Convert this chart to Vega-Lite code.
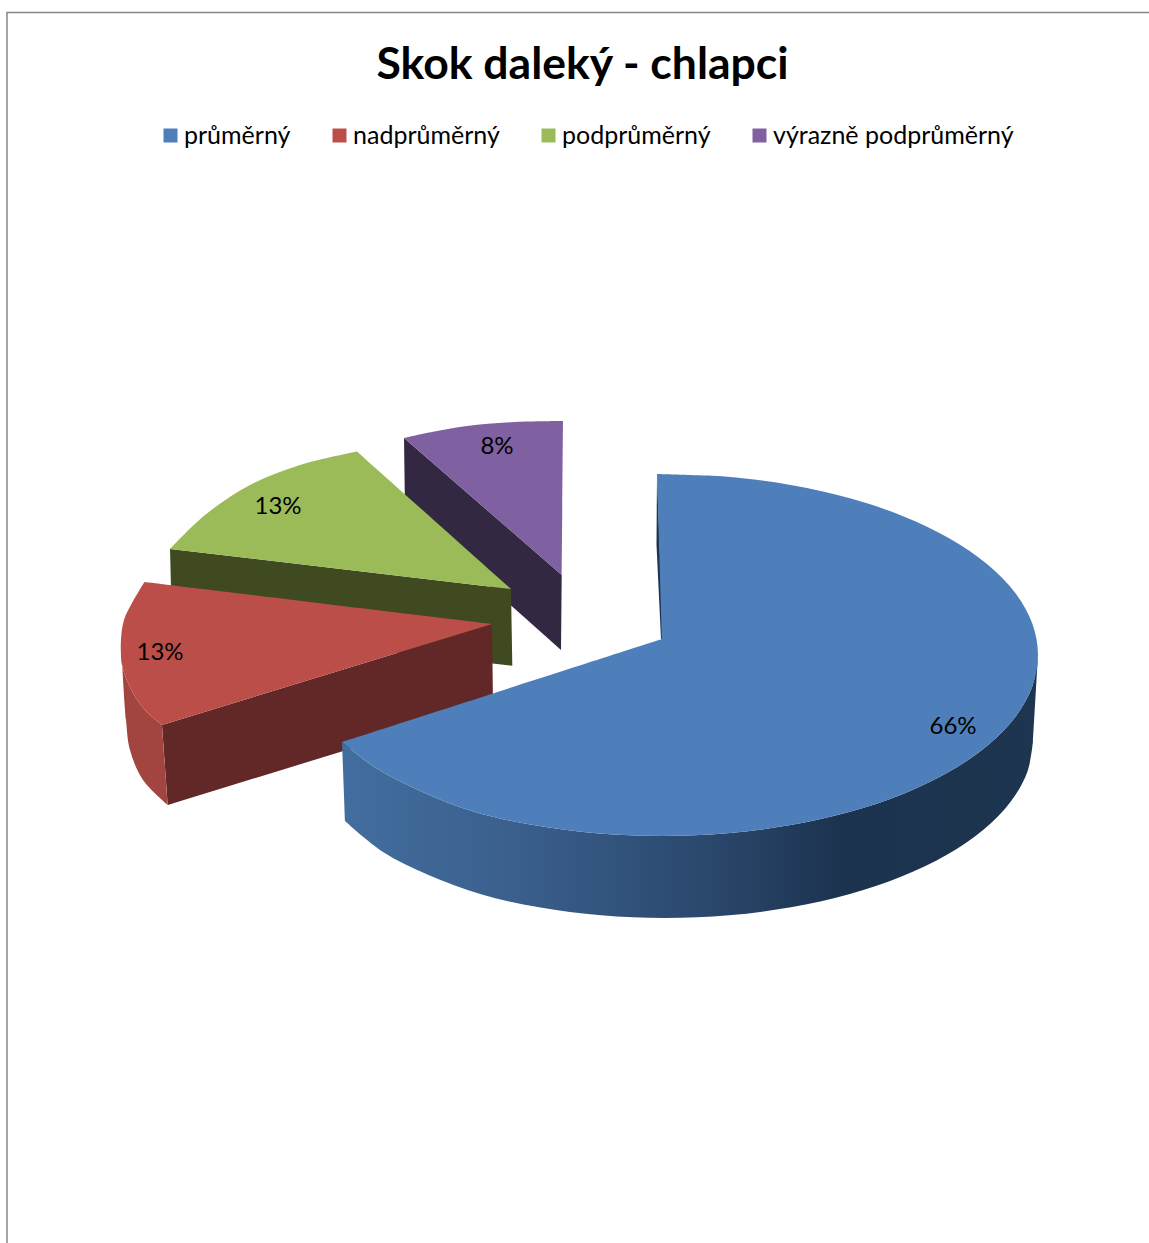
{
  "$schema": "https://vega.github.io/schema/vega-lite/v6.json",
  "width": 1149,
  "height": 1243,
  "padding": 0,
  "autosize": "none",
  "background": "white",
  "title": {"text": "Skok daleký - chlapci", "font": "Lato", "fontSize": 44.5, "fontWeight": "bold", "color": "#000000", "anchor": "middle", "baseline": "middle", "offset": 0, "dx": 8, "dy": 110},
  "config": {"view": {"stroke": null}},
  "datasets": {
    "outline": [
      {"slice": "výrazně podprůměrný", "face": "side", "n": 1, "x": 404, "y": 438},
      {"slice": "výrazně podprůměrný", "face": "side", "n": 2, "x": 561.7, "y": 575},
      {"slice": "výrazně podprůměrný", "face": "side", "n": 3, "x": 561, "y": 650},
      {"slice": "výrazně podprůměrný", "face": "side", "n": 4, "x": 405, "y": 511},

      {"slice": "výrazně podprůměrný", "face": "top", "n": 1, "x": 404, "y": 438},
      {"slice": "výrazně podprůměrný", "face": "top", "n": 2, "x": 433, "y": 431.7},
      {"slice": "výrazně podprůměrný", "face": "top", "n": 3, "x": 467, "y": 426},
      {"slice": "výrazně podprůměrný", "face": "top", "n": 4, "x": 515, "y": 422},
      {"slice": "výrazně podprůměrný", "face": "top", "n": 5, "x": 563, "y": 421},
      {"slice": "výrazně podprůměrný", "face": "top", "n": 6, "x": 563, "y": 421},
      {"slice": "výrazně podprůměrný", "face": "top", "n": 7, "x": 561.7, "y": 575},

      {"slice": "podprůměrný", "face": "side", "n": 1, "x": 170, "y": 549},
      {"slice": "podprůměrný", "face": "side", "n": 2, "x": 511, "y": 589},
      {"slice": "podprůměrný", "face": "side", "n": 3, "x": 512.3, "y": 665.7},
      {"slice": "podprůměrný", "face": "side", "n": 4, "x": 172, "y": 627},

      {"slice": "podprůměrný", "face": "top", "n": 1, "x": 511, "y": 589},
      {"slice": "podprůměrný", "face": "top", "n": 2, "x": 357, "y": 451.5},
      {"slice": "podprůměrný", "face": "top", "n": 3, "x": 357, "y": 451.5},
      {"slice": "podprůměrný", "face": "top", "n": 4, "x": 300, "y": 465},
      {"slice": "podprůměrný", "face": "top", "n": 5, "x": 250, "y": 485},
      {"slice": "podprůměrný", "face": "top", "n": 6, "x": 205, "y": 515},
      {"slice": "podprůměrný", "face": "top", "n": 7, "x": 170, "y": 549},

      {"slice": "nadprůměrný", "face": "front", "n": 1, "x": 162, "y": 725},
      {"slice": "nadprůměrný", "face": "front", "n": 2, "x": 492, "y": 624},
      {"slice": "nadprůměrný", "face": "front", "n": 3, "x": 493, "y": 705},
      {"slice": "nadprůměrný", "face": "front", "n": 4, "x": 167.7, "y": 805},

      {"slice": "nadprůměrný", "face": "outer", "n": 1, "x": 121, "y": 640},
      {"slice": "nadprůměrný", "face": "outer", "n": 2, "x": 122.5, "y": 667},
      {"slice": "nadprůměrný", "face": "outer", "n": 3, "x": 133, "y": 693},
      {"slice": "nadprůměrný", "face": "outer", "n": 4, "x": 146, "y": 711},
      {"slice": "nadprůměrný", "face": "outer", "n": 5, "x": 162, "y": 725},
      {"slice": "nadprůměrný", "face": "outer", "n": 6, "x": 162, "y": 725},
      {"slice": "nadprůměrný", "face": "outer", "n": 7, "x": 167.7, "y": 805},
      {"slice": "nadprůměrný", "face": "outer", "n": 8, "x": 167.7, "y": 805},
      {"slice": "nadprůměrný", "face": "outer", "n": 9, "x": 143, "y": 780},
      {"slice": "nadprůměrný", "face": "outer", "n": 10, "x": 130, "y": 750},
      {"slice": "nadprůměrný", "face": "outer", "n": 11, "x": 126, "y": 720},
      {"slice": "nadprůměrný", "face": "outer", "n": 12, "x": 121, "y": 640},

      {"slice": "nadprůměrný", "face": "top", "n": 1, "x": 492, "y": 624},
      {"slice": "nadprůměrný", "face": "top", "n": 2, "x": 144.5, "y": 582},
      {"slice": "nadprůměrný", "face": "top", "n": 3, "x": 144.5, "y": 582},
      {"slice": "nadprůměrný", "face": "top", "n": 4, "x": 132, "y": 603},
      {"slice": "nadprůměrný", "face": "top", "n": 5, "x": 124, "y": 620},
      {"slice": "nadprůměrný", "face": "top", "n": 6, "x": 121, "y": 640},
      {"slice": "nadprůměrný", "face": "top", "n": 7, "x": 122.5, "y": 667},
      {"slice": "nadprůměrný", "face": "top", "n": 8, "x": 133, "y": 693},
      {"slice": "nadprůměrný", "face": "top", "n": 9, "x": 146, "y": 711},
      {"slice": "nadprůměrný", "face": "top", "n": 10, "x": 162, "y": 725},

      {"slice": "průměrný", "face": "inner", "n": 1, "x": 657, "y": 474},
      {"slice": "průměrný", "face": "inner", "n": 2, "x": 656.5, "y": 545},
      {"slice": "průměrný", "face": "inner", "n": 3, "x": 661, "y": 639},
      {"slice": "průměrný", "face": "inner", "n": 4, "x": 663, "y": 639},

      {"slice": "průměrný", "face": "outer", "n": 1, "x": 1038, "y": 655},
      {"slice": "průměrný", "face": "outer", "n": 2, "x": 1032.3, "y": 686.4},
      {"slice": "průměrný", "face": "outer", "n": 3, "x": 1015.3, "y": 716.9},
      {"slice": "průměrný", "face": "outer", "n": 4, "x": 987.6, "y": 745.5},
      {"slice": "průměrný", "face": "outer", "n": 5, "x": 950, "y": 771.3},
      {"slice": "průměrný", "face": "outer", "n": 6, "x": 903.7, "y": 793.7},
      {"slice": "průměrný", "face": "outer", "n": 7, "x": 850, "y": 811.8},
      {"slice": "průměrný", "face": "outer", "n": 8, "x": 790.6, "y": 825.1},
      {"slice": "průměrný", "face": "outer", "n": 9, "x": 727.3, "y": 833.3},
      {"slice": "průměrný", "face": "outer", "n": 10, "x": 662, "y": 836},
      {"slice": "průměrný", "face": "outer", "n": 11, "x": 596.7, "y": 833.3},
      {"slice": "průměrný", "face": "outer", "n": 12, "x": 533.4, "y": 825.1},
      {"slice": "průměrný", "face": "outer", "n": 13, "x": 474, "y": 811.8},
      {"slice": "průměrný", "face": "outer", "n": 14, "x": 420.3, "y": 791},
      {"slice": "průměrný", "face": "outer", "n": 15, "x": 376, "y": 768},
      {"slice": "průměrný", "face": "outer", "n": 16, "x": 342, "y": 742},
      {"slice": "průměrný", "face": "outer", "n": 17, "x": 342, "y": 742},
      {"slice": "průměrný", "face": "outer", "n": 18, "x": 345, "y": 821},
      {"slice": "průměrný", "face": "outer", "n": 19, "x": 345, "y": 821},
      {"slice": "průměrný", "face": "outer", "n": 20, "x": 383, "y": 852},
      {"slice": "průměrný", "face": "outer", "n": 21, "x": 428.5, "y": 875},
      {"slice": "průměrný", "face": "outer", "n": 22, "x": 481, "y": 894.3},
      {"slice": "průměrný", "face": "outer", "n": 23, "x": 539.1, "y": 907.3},
      {"slice": "průměrný", "face": "outer", "n": 24, "x": 601.1, "y": 915.3},
      {"slice": "průměrný", "face": "outer", "n": 25, "x": 665, "y": 918},
      {"slice": "průměrný", "face": "outer", "n": 26, "x": 728.9, "y": 915.3},
      {"slice": "průměrný", "face": "outer", "n": 27, "x": 790.9, "y": 907.3},
      {"slice": "průměrný", "face": "outer", "n": 28, "x": 849, "y": 894.3},
      {"slice": "průměrný", "face": "outer", "n": 29, "x": 901.5, "y": 876.6},
      {"slice": "průměrný", "face": "outer", "n": 30, "x": 946.9, "y": 854.8},
      {"slice": "průměrný", "face": "outer", "n": 31, "x": 983.7, "y": 829.5},
      {"slice": "průměrný", "face": "outer", "n": 32, "x": 1010.8, "y": 801.5},
      {"slice": "průměrný", "face": "outer", "n": 33, "x": 1027.4, "y": 771.7},
      {"slice": "průměrný", "face": "outer", "n": 34, "x": 1033, "y": 741},
      {"slice": "průměrný", "face": "outer", "n": 35, "x": 1033, "y": 741},
      {"slice": "průměrný", "face": "outer", "n": 36, "x": 1038, "y": 655},

      {"slice": "průměrný", "face": "top", "n": 1, "x": 657, "y": 474},
      {"slice": "průměrný", "face": "top", "n": 2, "x": 690, "y": 475},
      {"slice": "průměrný", "face": "top", "n": 3, "x": 727.3, "y": 476.7},
      {"slice": "průměrný", "face": "top", "n": 4, "x": 790.6, "y": 484.9},
      {"slice": "průměrný", "face": "top", "n": 5, "x": 850, "y": 498.3},
      {"slice": "průměrný", "face": "top", "n": 6, "x": 903.7, "y": 516.4},
      {"slice": "průměrný", "face": "top", "n": 7, "x": 950, "y": 538.7},
      {"slice": "průměrný", "face": "top", "n": 8, "x": 987.6, "y": 564.5},
      {"slice": "průměrný", "face": "top", "n": 9, "x": 1015.3, "y": 593.1},
      {"slice": "průměrný", "face": "top", "n": 10, "x": 1032.3, "y": 623.6},
      {"slice": "průměrný", "face": "top", "n": 11, "x": 1038, "y": 655},
      {"slice": "průměrný", "face": "top", "n": 12, "x": 1032.3, "y": 686.4},
      {"slice": "průměrný", "face": "top", "n": 13, "x": 1015.3, "y": 716.9},
      {"slice": "průměrný", "face": "top", "n": 14, "x": 987.6, "y": 745.5},
      {"slice": "průměrný", "face": "top", "n": 15, "x": 950, "y": 771.3},
      {"slice": "průměrný", "face": "top", "n": 16, "x": 903.7, "y": 793.7},
      {"slice": "průměrný", "face": "top", "n": 17, "x": 850, "y": 811.8},
      {"slice": "průměrný", "face": "top", "n": 18, "x": 790.6, "y": 825.1},
      {"slice": "průměrný", "face": "top", "n": 19, "x": 727.3, "y": 833.3},
      {"slice": "průměrný", "face": "top", "n": 20, "x": 662, "y": 836},
      {"slice": "průměrný", "face": "top", "n": 21, "x": 596.7, "y": 833.3},
      {"slice": "průměrný", "face": "top", "n": 22, "x": 533.4, "y": 825.1},
      {"slice": "průměrný", "face": "top", "n": 23, "x": 474, "y": 811.8},
      {"slice": "průměrný", "face": "top", "n": 24, "x": 420.3, "y": 791},
      {"slice": "průměrný", "face": "top", "n": 25, "x": 376, "y": 768},
      {"slice": "průměrný", "face": "top", "n": 26, "x": 342, "y": 742},
      {"slice": "průměrný", "face": "top", "n": 27, "x": 342, "y": 742},
      {"slice": "průměrný", "face": "top", "n": 28, "x": 662, "y": 639},
      {"slice": "průměrný", "face": "top", "n": 29, "x": 662, "y": 639},
      {"slice": "průměrný", "face": "top", "n": 30, "x": 657, "y": 474}
    ],
    "labels": [
      {"slice": "průměrný", "label": "66%", "x": 953, "y": 727},
      {"slice": "nadprůměrný", "label": "13%", "x": 160, "y": 653},
      {"slice": "podprůměrný", "label": "13%", "x": 278, "y": 507},
      {"slice": "výrazně podprůměrný", "label": "8%", "x": 497, "y": 447}
    ],
    "frame": [
      {"n": 1, "x": 7, "y": 1243},
      {"n": 2, "x": 7, "y": 12.5},
      {"n": 3, "x": 1149, "y": 12.5}
    ]
  },
  "encoding": {
    "x": {"field": "x", "type": "quantitative", "scale": {"domain": [0, 1149], "nice": false, "zero": false}, "axis": null},
    "y": {"field": "y", "type": "quantitative", "scale": {"domain": [1243, 0], "nice": false, "zero": false}, "axis": null},
    "order": {"field": "n", "type": "quantitative"}
  },
  "layer": [
    {
      "data": {"name": "frame"},
      "mark": {"type": "line", "stroke": "#868686", "strokeWidth": 1.5}
    },
    {
      "data": {"name": "outline"},
      "transform": [{"filter": "datum.slice === 'výrazně podprůměrný' && datum.face === 'side'"}],
      "mark": {"type": "line", "fill": "#322841", "strokeWidth": 0}
    },
    {
      "data": {"name": "outline"},
      "transform": [{"filter": "datum.slice === 'podprůměrný' && datum.face === 'side'"}],
      "mark": {"type": "line", "fill": "#3f4a21", "strokeWidth": 0}
    },
    {
      "data": {"name": "outline"},
      "transform": [{"filter": "datum.face === 'top' && (datum.slice === 'výrazně podprůměrný' || datum.slice === 'podprůměrný')"}],
      "mark": {"type": "line", "filled": true, "strokeWidth": 0, "interpolate": "catmull-rom"},
      "encoding": {
        "color": {
          "field": "slice", "type": "nominal",
          "scale": {"domain": ["průměrný", "nadprůměrný", "podprůměrný", "výrazně podprůměrný"], "range": ["#4f7fba", "#bc4e4a", "#9bbb59", "#7f60a0"]},
          "legend": {"title": null, "orient": "none", "legendX": 158, "legendY": 123, "direction": "horizontal", "columns": 4, "columnPadding": 36, "symbolType": "square", "symbolSize": 196, "symbolStrokeWidth": 0, "labelFont": "Lato", "labelFontSize": 25, "labelColor": "#000000", "labelOffset": 1, "labelLimit": 400, "gridAlign": "none"}
        }
      }
    },
    {
      "data": {"name": "outline"},
      "transform": [{"filter": "datum.slice === 'nadprůměrný' && datum.face === 'front'"}],
      "mark": {"type": "line", "fill": "#622727", "strokeWidth": 0}
    },
    {
      "data": {"name": "outline"},
      "transform": [{"filter": "datum.slice === 'nadprůměrný' && datum.face === 'outer'"}],
      "mark": {"type": "line", "fill": "#a24540", "strokeWidth": 0, "interpolate": "catmull-rom"}
    },
    {
      "data": {"name": "outline"},
      "transform": [{"filter": "datum.slice === 'nadprůměrný' && datum.face === 'top'"}],
      "mark": {"type": "line", "filled": true, "strokeWidth": 0, "interpolate": "catmull-rom"},
      "encoding": {"color": {"field": "slice", "type": "nominal"}}
    },
    {
      "data": {"name": "outline"},
      "transform": [{"filter": "datum.slice === 'průměrný' && datum.face === 'inner'"}],
      "mark": {"type": "line", "fill": "#1d3550", "strokeWidth": 0}
    },
    {
      "data": {"name": "outline"},
      "transform": [{"filter": "datum.slice === 'průměrný' && datum.face === 'outer'"}],
      "mark": {
        "type": "line", "strokeWidth": 0, "interpolate": "catmull-rom",
        "fill": {"gradient": "linear", "x1": 0, "y1": 0, "x2": 1, "y2": 0, "stops": [
          {"offset": 0, "color": "#426e9f"},
          {"offset": 0.25, "color": "#3a5f8c"},
          {"offset": 0.5, "color": "#2c4a70"},
          {"offset": 0.72, "color": "#1c334f"},
          {"offset": 1, "color": "#1e3550"}
        ]}
      }
    },
    {
      "data": {"name": "outline"},
      "transform": [{"filter": "datum.slice === 'průměrný' && datum.face === 'top'"}],
      "mark": {"type": "line", "filled": true, "strokeWidth": 0, "interpolate": "catmull-rom"},
      "encoding": {"color": {"field": "slice", "type": "nominal"}}
    },
    {
      "data": {"name": "labels"},
      "mark": {"type": "text", "font": "Lato", "fontSize": 24, "color": "#000000", "align": "center", "baseline": "middle"},
      "encoding": {"text": {"field": "label"}, "order": null}
    }
  ]
}
